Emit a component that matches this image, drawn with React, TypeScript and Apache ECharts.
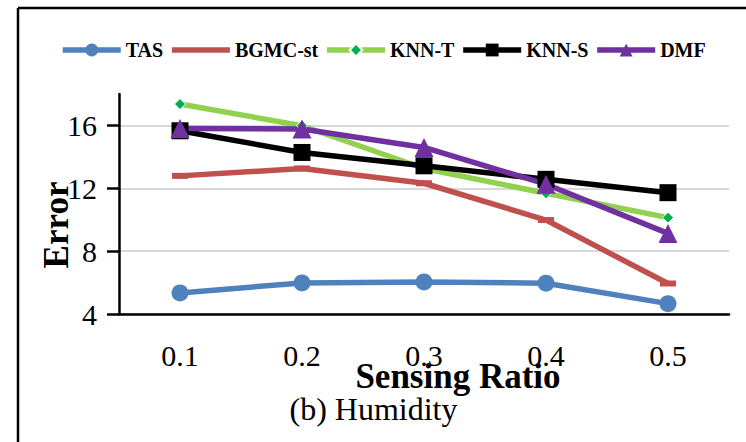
import React, { useEffect, useRef } from "react";
import * as echarts from "echarts";

const categories = ["0.1", "0.2", "0.3", "0.4", "0.5"];
const yTicks = [4, 8, 12, 16];
const tasValues = [5.34, 5.98, 6.04, 5.96, 4.66];
const bgmcValues = [12.79, 13.26, 12.32, 9.98, 5.94];
const knnTValues = [17.36, 15.98, 13.26, 11.68, 10.13];
const knnSValues = [15.66, 14.28, 13.43, 12.57, 11.72];
const dmfValues = [15.81, 15.77, 14.6, 12.26, 9.13];

const FONT = "Liberation Serif, Times New Roman, Times, serif";

export default function App() {
  const ref = useRef<HTMLDivElement>(null);
  useEffect(() => {
    if (!ref.current) return;
    const chart = echarts.init(ref.current, null, { renderer: "svg" });
    const lw = 5.5;
    chart.setOption({
      animation: false,
      backgroundColor: "#ffffff",
      legend: {
        left: 60,
        top: 40,
        padding: 0,
        itemWidth: 58,
        itemHeight: 16,
        itemGap: 6,
        lineStyle: { width: 5.5 },
        textStyle: { fontFamily: FONT, fontWeight: "bold", fontSize: 20, color: "#000" },
        data: [
          "TAS",
          { name: "BGMC-st", itemStyle: { opacity: 0 } },
          "KNN-T",
          "KNN-S",
          "DMF",
        ],
      },
      grid: { left: 119, right: 17, top: 94, bottom: 128 },
      xAxis: {
        type: "category",
        data: categories,
        boundaryGap: true,
        axisLine: { lineStyle: { color: "#000", width: 2.5 } },
        axisTick: { show: false },
        axisLabel: { fontFamily: FONT, fontSize: 30, color: "#000", margin: 26 },
        splitLine: { show: false },
      },
      yAxis: {
        type: "value",
        min: 4,
        max: 18,
        interval: 4,
        axisLine: { show: true, lineStyle: { color: "#000", width: 2.5 } },
        axisTick: { show: true, length: 12, lineStyle: { color: "#000", width: 2.5 }, customValues: yTicks },
        axisLabel: { fontFamily: FONT, fontSize: 30, color: "#000", margin: 22, customValues: yTicks },
        splitLine: { show: true, lineStyle: { color: "#d9d9d9", width: 2 } },
      },
      graphic: [
        { type: "line", shape: { x1: 18, y1: 8, x2: 746, y2: 8 }, style: { stroke: "#000", lineWidth: 2.5 } },
        { type: "line", shape: { x1: 18, y1: 8, x2: 18, y2: 442 }, style: { stroke: "#000", lineWidth: 2.5 } },
        {
          type: "text",
          x: 56.5,
          y: 225,
          rotation: Math.PI / 2,
          style: { text: "Error", fontFamily: FONT, fontWeight: "bold", fontSize: 35, fill: "#000", align: "center", verticalAlign: "middle" },
        },
        {
          type: "text",
          x: 458,
          y: 376,
          style: { text: "Sensing Ratio", fontFamily: FONT, fontWeight: "bold", fontSize: 35, fill: "#000", align: "center", verticalAlign: "middle" },
        },
        {
          type: "text",
          x: 373.5,
          y: 409,
          style: { text: "(b) Humidity", fontFamily: FONT, fontSize: 32, fill: "#000", align: "center", verticalAlign: "middle" },
        },
      ],
      series: [
        {
          name: "TAS",
          type: "line",
          data: tasValues,
          symbol: "circle",
          symbolSize: 17,
          lineStyle: { color: "#4F81BD", width: lw },
          itemStyle: { color: "#4F81BD" },
        },
        {
          name: "BGMC-st",
          type: "line",
          data: bgmcValues,
          symbol: "rect",
          symbolSize: [16, 6],
          lineStyle: { color: "#C0504D", width: lw },
          itemStyle: { color: "#C0504D" },
        },
        {
          name: "KNN-T",
          type: "line",
          data: knnTValues,
          symbol: "diamond",
          symbolSize: 11,
          lineStyle: { color: "#92D050", width: lw },
          itemStyle: { color: "#00B050", borderColor: "#ffffff", borderWidth: 1 },
        },
        {
          name: "KNN-S",
          type: "line",
          data: knnSValues,
          symbol: "rect",
          symbolSize: 17,
          lineStyle: { color: "#000000", width: lw },
          itemStyle: { color: "#000000" },
        },
        {
          name: "DMF",
          type: "line",
          data: dmfValues,
          symbol: "triangle",
          symbolSize: 19,
          lineStyle: { color: "#7030A0", width: lw },
          itemStyle: { color: "#7030A0" },
        },
      ],
    });
    return () => chart.dispose();
  }, []);
  return <div ref={ref} style={{ position: "absolute", left: 0, top: 0, width: 746, height: 442 }} />;
}
